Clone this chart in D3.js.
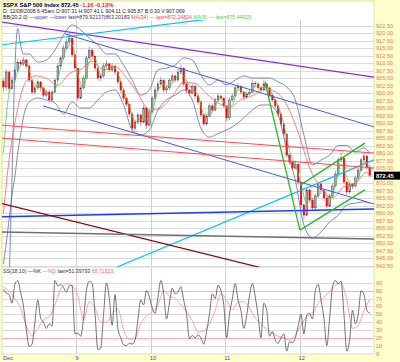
<!DOCTYPE html>
<html>
<head>
<meta charset="utf-8">
<script src="https://cdn.jsdelivr.net/npm/d3@7"></script>
<style>
body{margin:0;background:#fff;}
svg{display:block;font-family:"Liberation Sans",Arial,sans-serif;}
</style>
</head>
<body>
<svg id="chart" width="400" height="362"></svg>
<script>
// 15 minute bars, Dec 8 - Dec 12 2008 ($SPX)
var dayLabels = ['Dec', '9', '10', '11', '12'];
var barsPerDay = 26;

var opens = [904,902,907,901.5,904.3,907.5,910.3,909.7,911,909,
904.3,900.3,901.7,903.7,901.7,899.3,900.3,897.7,900.3,904.3,
909,911.7,915,917,918.3,912.7,908.3,898.3,901.7,905,
911.7,914.3,912.3,908.3,905,905.7,909,909.7,907.7,909,
907,903.7,901,898.3,896.3,893,888.3,890.3,892.7,890.3,
895,889.3,893.7,898.3,901,903,904.3,901,901.7,904.3,
905.7,904.3,907,908.3,903,901,900,902.3,899,897,
892.7,889.7,892.3,895.7,894.3,897.7,899,898.3,895.7,891.7,
897.7,899,901.7,902.3,900.3,898.7,899.7,900.3,903.3,903,
901.7,901,903,901.7,899.3,897.7,895.7,893,889.7,886.3,
879.3,877,875,876.3,870.3,862.7,859.3,867.7,864.3,861.7,
865.7,869.7,867.7,865,862.3,865.7,869,873,877.7,878.3,
870.3,867,869.7,869,871.7,874.3,877.7,879,875.3];

var closes = [902,907,901.5,904.3,907.5,910.3,909.7,911,909,904.3,
900.3,901.7,903.7,901.7,899.3,900.3,897.7,900.3,904.3,909,
911.7,915,917,918.3,912.7,908.3,898.3,901.7,905,911.7,
914.3,912.3,908.3,905,905.7,909,909.7,907.7,909,907,
903.7,901,898.3,896.3,893,888.3,890.3,892.7,890.3,895,
889.3,893.7,898.3,901,903,904.3,901,901.7,904.3,905.7,
904.3,907,908.3,903,901,900,902.3,899,897,892.7,
889.7,892.3,895.7,894.3,897.7,899,898.3,895.7,891.7,897.7,
899,901.7,902.3,900.3,898.7,899.7,900.3,903.3,903,901.7,
901,903,901.7,899.3,897.7,895.7,893,889.7,886.3,879.3,
877,875,876.3,870.3,862.7,859.3,867.7,864.3,861.7,865.7,
869.7,867.7,865,862.3,865.7,869,873,877.7,878.3,870.3,
867,869.7,869,871.7,874.3,877.7,879,875.3,872.45];

var highs = [905,908,907.5,905.5,908.5,911.5,911,912,911.5,909.5,
904.5,902.5,904.5,904,902,901,901,901,905,910,
912.5,916,918,920,918.5,913,908.5,902.5,906,912.5,
915.5,915,912.5,908.5,906.5,910,911,910,910,909.5,
907.5,904,901.5,898.5,896.5,893.5,891,893.5,893,896,
895.5,894.5,899,902,904,905.5,904.5,902.5,905,906.5,
906,908,909.5,908.5,903.5,901.5,903,902.5,899.5,897.5,
893,893,896.5,896.5,898.5,900,899.5,898.5,896,898.5,
900,902.5,903.5,902.5,900.5,900.5,901,904.5,904,903.5,
902,904.5,903.5,902,899.5,898,896,893.5,890,886.5,
880,877.5,877.5,876.5,870.5,863,868.5,868,865,866.5,
870.5,870,868,865.5,866.5,870,874,878.5,880,878.5,
870.5,870.5,870,872.5,875,878.5,880.3,879.5,876];

var lows = [900.5,901,900,901,903.5,907,909,909,908,903.5,
899.5,899.5,901,900.5,898.5,898.5,896.5,897,900,904,
908.5,911,914.5,916,912,907.5,897.5,898,901,904.5,
911,911.5,907.5,904,904,905,908.5,907,907,906,
903,900,897.5,895.5,892,887,887.5,889.5,889,890,
888,889,893,897.5,900.5,902.5,900,900,901,903.5,
903.5,904,906.5,902,900,899,899.5,898,896,892,
889,889,892,893.5,894,897,897.5,895,890.5,891,
897,898.5,901,899.5,897.5,898,899,900,902,901,
900,900.5,901,898.5,897,895,892,889,885.5,878.5,
876,874,874.5,869.5,861.5,857.7,859,863.5,861,861,
865,867,864,861.5,862,865,868.5,872.5,877,869.5,
866,866.5,868,868.5,871,874,877,874.5,872];

// MA(8), read every 2 bars
var maFastIdx = d3.range(0, 129, 2);
var maFast = [880,900,904.4,909.2,909.9,904.5,901.9,901.6,899.1,900.8,
908.3,914.6,916,906.4,901.7,910.3,911.6,906.3,908.1,908.8,
906.6,901,895.9,890.5,891.1,891.5,893.8,900.8,902.8,902.3,
904.8,906.5,904.1,901.1,899.4,893.1,892.6,895.9,898.3,895.2,
896.1,901,900.4,899.6,902.2,901.9,901.9,899.6,895.5,889.7,
880.9,876.1,869.8,863.2,864.6,865.7,867.5,864.3,869.2,876.3,
871.9,868.6,871.7,877,875.4];

// MA(34)
var maSlowIdx = [0,2,4,6,8,11,15,19,23,27,31,35,39,43,47,51,55,59,63,67,71,75,79,83,87,91,95,99,103,107,111,115,119,123,127,128];
var maSlow = [860,878,890,899,904,905.7,904.9,902.6,906.5,907.9,910.5,907.7,908.7,905.1,899.8,
894.3,895,899,903.5,903.2,899.7,896.7,895.2,897.8,899.1,
901.2,900.4,896,886.8,875.1,868.1,865.1,868.8,869.9,873.6,872.25];

// BB(20,2.0)
var bandIdx = [0,1,2,3,4,5,6,7].concat(d3.range(9, 127, 3), [128]);
var bbUpper = [800,810,838,872,908,921.5,916,913,
913,910.3,911,914.3,919.3,922.7,921,918.3,916,913,
913,909.3,904.3,899.3,901,907.7,908.3,909.3,911.7,911,
906,902.7,904.3,902.7,904.3,905.7,905,905,905,903.7,
902,897.7,886,876,877.7,879.3,882.5,882.5,880.3,881.7,879.9];
var bbLower = [843,850,858,866,872,880,886,892,
897,898.3,897.7,896.7,893,897,895,895,897.7,900.3,
901,896,887.7,886,887.7,894.3,897.7,899.3,901,897.7,
888.3,885.3,886.5,887.7,889.3,891.7,894.3,896,896,892.7,
881,871,856,851.7,853.7,857,859.3,862.7,863.3,863.7,863.2];

// SS(18,10) %K per bar, %D every 2 bars
var stochK = [82,77,75,64,88,93,78,60,30,9,
12,40,68,45,40,32,38,35,93,86,
88,84,78,86,87,25,26,22,45,80,
92,89,51,5,7,50,90,70,36,75,
32,20,11,10,13,12,17,43,68,62,
80,72,58,51,72,93,76,44,64,83,
76,78,85,68,50,19,23,20,24,20,
12,28,50,76,70,87,80,62,20,50,
70,89,68,55,32,48,74,89,72,48,
20,64,55,22,28,17,13,20,25,3,
15,14,20,35,50,25,49,51,44,80,
88,68,45,10,45,85,93,89,92,50,
3,18,55,38,50,80,75,55,51.4];
var stochDIdx = d3.range(0, 129, 2);
var stochD = [85,79,70,58,35,23,32,43,47,62,
82,89,86,74,43,66,58,40,40,50,
57,30,18,20,38,48,53,62,80,73,
70,62,53,42,27,29,38,55,76,68,
56,65,66,58,45,38,31,26,22,20,
17,24,36,47,51,64,72,79,87,89,
68,32,36,55,68.7];

// drawn trend lines: [bar1, price1, bar2, price2]
var trendCoords = [
    [-1.2, 923.7, 129.5, 905.3],
    [-1.2, 916, 129.5, 931.5],
    [39.7, 842, 129.5, 877.7],
    [21.5, 919.7, 129.5, 888.7],
    [13.8, 895.7, 129.5, 863],
    [-1.2, 858.7, 129.5, 861.3],
    [-1.2, 889.3, 129.5, 880],
    [-1.2, 885, 129.5, 875],
    [-1.2, 863.3, 90.3, 841.7],
    [-1.2, 853.7, 129.5, 851.3],
    [91.4, 903.7, 103.6, 854.3],
    [103.6, 869.2, 126.3, 883.3],
    [103.6, 854.3, 126.3, 867.7]
];
var trendStyles = [
    {c:'#8a2be2', w:1.2}, {c:'#00bfff', w:1.2}, {c:'#00bfff', w:1.2},
    {c:'#3f5fee', w:1}, {c:'#3f5fee', w:1}, {c:'#1a3cff', w:1.5},
    {c:'#ff4d4d', w:1}, {c:'#ff4d4d', w:1}, {c:'#8b0000', w:1.2},
    {c:'#707070', w:1.5}, {c:'#22bb22', w:1.3}, {c:'#22bb22', w:1.3},
    {c:'#22bb22', w:1.3}
];

var svg = d3.select('#chart');
var left = 2, right = 374;
var mainTop = 20, mainBottom = 267, oscTop = 268, oscBottom = 354;

var x = d3.scaleLinear().domain([-0.5, 129.5]).range([left, right]);
var y = d3.scaleLinear().domain([842.5, 922.5]).range([265.5, 25.5]);
var yOsc = d3.scaleLinear().domain([0, 100]).range([353.5, 275]);

var axisColour = '#ee7766';

//background
svg.append('rect').attr('width', 400).attr('height', 362).attr('fill', '#ffffcc');
svg.append('rect').attr('x', left).attr('y', 1).attr('width', right - left).attr('height', oscBottom - 1)
    .attr('fill', '#fff').attr('stroke', '#d6d6a0').attr('stroke-width', 0.8);

var defs = svg.append('defs');
defs.append('clipPath').attr('id', 'clipMain').append('rect')
    .attr('x', left).attr('y', mainTop).attr('width', right - left).attr('height', mainBottom - mainTop);
defs.append('clipPath').attr('id', 'clipOsc').append('rect')
    .attr('x', left).attr('y', oscTop).attr('width', right - left).attr('height', oscBottom - oscTop);

//grid
var priceTicks = d3.range(842.5, 923, 2.5);
var grid = svg.append('g');
grid.selectAll('line.h')
    .data(priceTicks)
    .enter()
    .append('line')
        .attr('x1', left).attr('x2', right)
        .attr('y1', function(d){ return Math.round(y(d)) + 0.5; })
        .attr('y2', function(d){ return Math.round(y(d)) + 0.5; })
        .attr('stroke', '#dcdcdc').attr('stroke-width', 1);

var oscTicks = d3.range(10, 100, 10);
grid.selectAll('line.o')
    .data(oscTicks)
    .enter()
    .append('line')
        .attr('x1', left).attr('x2', right)
        .attr('y1', function(d){ return Math.round(yOsc(d)) + 0.5; })
        .attr('y2', function(d){ return Math.round(yOsc(d)) + 0.5; })
        .attr('stroke', function(d){ return (d == 20 || d == 80) ? '#ffb0b0' : '#dcdcdc'; })
        .attr('stroke-width', 1);

grid.selectAll('line.v')
    .data(d3.range(1, dayLabels.length))
    .enter()
    .append('line')
        .attr('x1', function(d){ return Math.round(x(d * barsPerDay - 0.5)) + 0.5; })
        .attr('x2', function(d){ return Math.round(x(d * barsPerDay - 0.5)) + 0.5; })
        .attr('y1', mainTop).attr('y2', oscBottom)
        .attr('stroke', '#d0d0d0').attr('stroke-width', 1);

svg.append('line').attr('x1', left).attr('x2', right).attr('y1', mainBottom + 0.5).attr('y2', mainBottom + 0.5)
    .attr('stroke', '#e6e6e6');

//candles
var main = svg.append('g').attr('clip-path', 'url(#clipMain)');
var candles = main.selectAll('g.bar')
    .data(closes)
    .enter()
    .append('g');

candles.append('line')
    .attr('x1', function(d, i){ return x(i); })
    .attr('x2', function(d, i){ return x(i); })
    .attr('y1', function(d, i){ return y(highs[i]); })
    .attr('y2', function(d, i){ return y(lows[i]); })
    .attr('stroke', '#999').attr('stroke-width', 0.8);

candles.append('rect')
    .attr('x', function(d, i){ return x(i) - 0.8; })
    .attr('width', 1.6)
    .attr('y', function(d, i){ return y(Math.max(opens[i], d)); })
    .attr('height', function(d, i){ return Math.max(0.8, Math.abs(y(opens[i]) - y(d))); })
    .attr('fill', function(d, i){ return d < opens[i] ? '#ff0000' : '#b0b0b0'; })
    .attr('stroke', function(d, i){ return d < opens[i] ? '#ff0000' : '#222'; })
    .attr('stroke-width', 0.4);

//indicators
function series(idx, vals){
    return idx.map(function(b, k){ return [b, vals[k]]; });
}
var priceLine = d3.line()
    .x(function(d){ return x(d[0]); })
    .y(function(d){ return y(d[1]); })
    .curve(d3.curveMonotoneX);

main.append('path').datum(series(bandIdx, bbUpper)).attr('d', priceLine)
    .attr('fill', 'none').attr('stroke', '#6868b0').attr('stroke-width', 0.8);
main.append('path').datum(series(bandIdx, bbLower)).attr('d', priceLine)
    .attr('fill', 'none').attr('stroke', '#6868b0').attr('stroke-width', 0.8);
main.append('path').datum(series(maSlowIdx, maSlow)).attr('d', priceLine)
    .attr('fill', 'none').attr('stroke', '#ff6060').attr('stroke-width', 0.8);
main.append('path').datum(series(maFastIdx, maFast)).attr('d', priceLine)
    .attr('fill', 'none').attr('stroke', '#55cc55').attr('stroke-width', 0.8);

//trend lines
main.selectAll('line.trend')
    .data(trendCoords)
    .enter()
    .append('line')
        .attr('x1', function(d){ return x(d[0]); })
        .attr('y1', function(d){ return y(d[1]); })
        .attr('x2', function(d){ return x(d[2]); })
        .attr('y2', function(d){ return y(d[3]); })
        .attr('stroke', function(d, i){ return trendStyles[i].c; })
        .attr('stroke-width', function(d, i){ return trendStyles[i].w; });

//oscillator
var osc = svg.append('g').attr('clip-path', 'url(#clipOsc)');
var oscLine = d3.line()
    .x(function(d){ return x(d[0]); })
    .y(function(d){ return yOsc(d[1]); })
    .curve(d3.curveMonotoneX);
osc.append('path').datum(series(stochDIdx, stochD)).attr('d', oscLine)
    .attr('fill', 'none').attr('stroke', '#ff9a9a').attr('stroke-width', 0.9);
osc.append('path').datum(series(d3.range(stochK.length), stochK)).attr('d', oscLine)
    .attr('fill', 'none').attr('stroke', '#444').attr('stroke-width', 0.75);

//right axis
var axisG = svg.append('g').attr('font-size', 5.6).attr('fill', axisColour);
axisG.selectAll('text.p')
    .data(priceTicks)
    .enter()
    .append('text')
        .attr('x', 376)
        .attr('y', function(d){ return y(d) + 2; })
        .text(function(d){ return d.toFixed(2); });
axisG.selectAll('text.o')
    .data(d3.range(0, 100, 10))
    .enter()
    .append('text')
        .attr('x', 376)
        .attr('y', function(d){ return yOsc(d) + 2; })
        .text(function(d){ return d; });

var last = closes[closes.length - 1];
svg.append('rect').attr('x', 374).attr('y', y(last) - 4).attr('width', 26).attr('height', 8).attr('fill', '#000');
svg.append('text').attr('x', 376).attr('y', y(last) + 2.2).attr('font-size', 5.8).attr('font-weight', 'bold')
    .attr('fill', '#fff').text(last.toFixed(2));

//dates
svg.selectAll('text.day')
    .data(dayLabels)
    .enter()
    .append('text')
        .attr('x', function(d, i){ return i == 0 ? 3 : x(i * barsPerDay - 0.5) - 1; })
        .attr('y', 360)
        .attr('font-size', 5.6)
        .attr('fill', '#3344cc')
        .text(function(d){ return d; });

//header text
function addLine(yPos, parts, size, weight){
    var t = svg.append('text').attr('x', 3).attr('y', yPos).attr('font-size', size)
        .attr('font-weight', weight || 'normal');
    parts.forEach(function(p){
        t.append('tspan').attr('fill', p[1]).text(p[0]);
    });
}
addLine(6.5, [['$SPX S&P 500 Index  ', '#000'], [last.toFixed(2) + '   ', '#000'], ['-1.16   -0.13%', '#ee2222']], 5.8, 'bold');
addLine(12.5, [['D: 12/08/2008   6:45am   O:907.31  H:907.41  L:904.11  C:905.87  B:0.30  V:907.069', '#222']], 5.2);
addLine(18.5, [['BB(20,2.0) ', '#222'], ['\u2014upper \u2014lower ', '#4444aa'], ['last=879.92137|863.20183 ', '#333366'],
    ['MA(34) \u2014 last=872.24824 ', '#ff4444'], ['MA(8) \u2014 last=875.44625', '#55cc55']], 5.2);
addLine(273, [['SS(18,10) \u2014%K ', '#333'], ['\u2014%D ', '#ff6666'], ['last=51.39793 ', '#333'], ['68.71523', '#ff6666']], 5.2);
</script>
</body>
</html>
